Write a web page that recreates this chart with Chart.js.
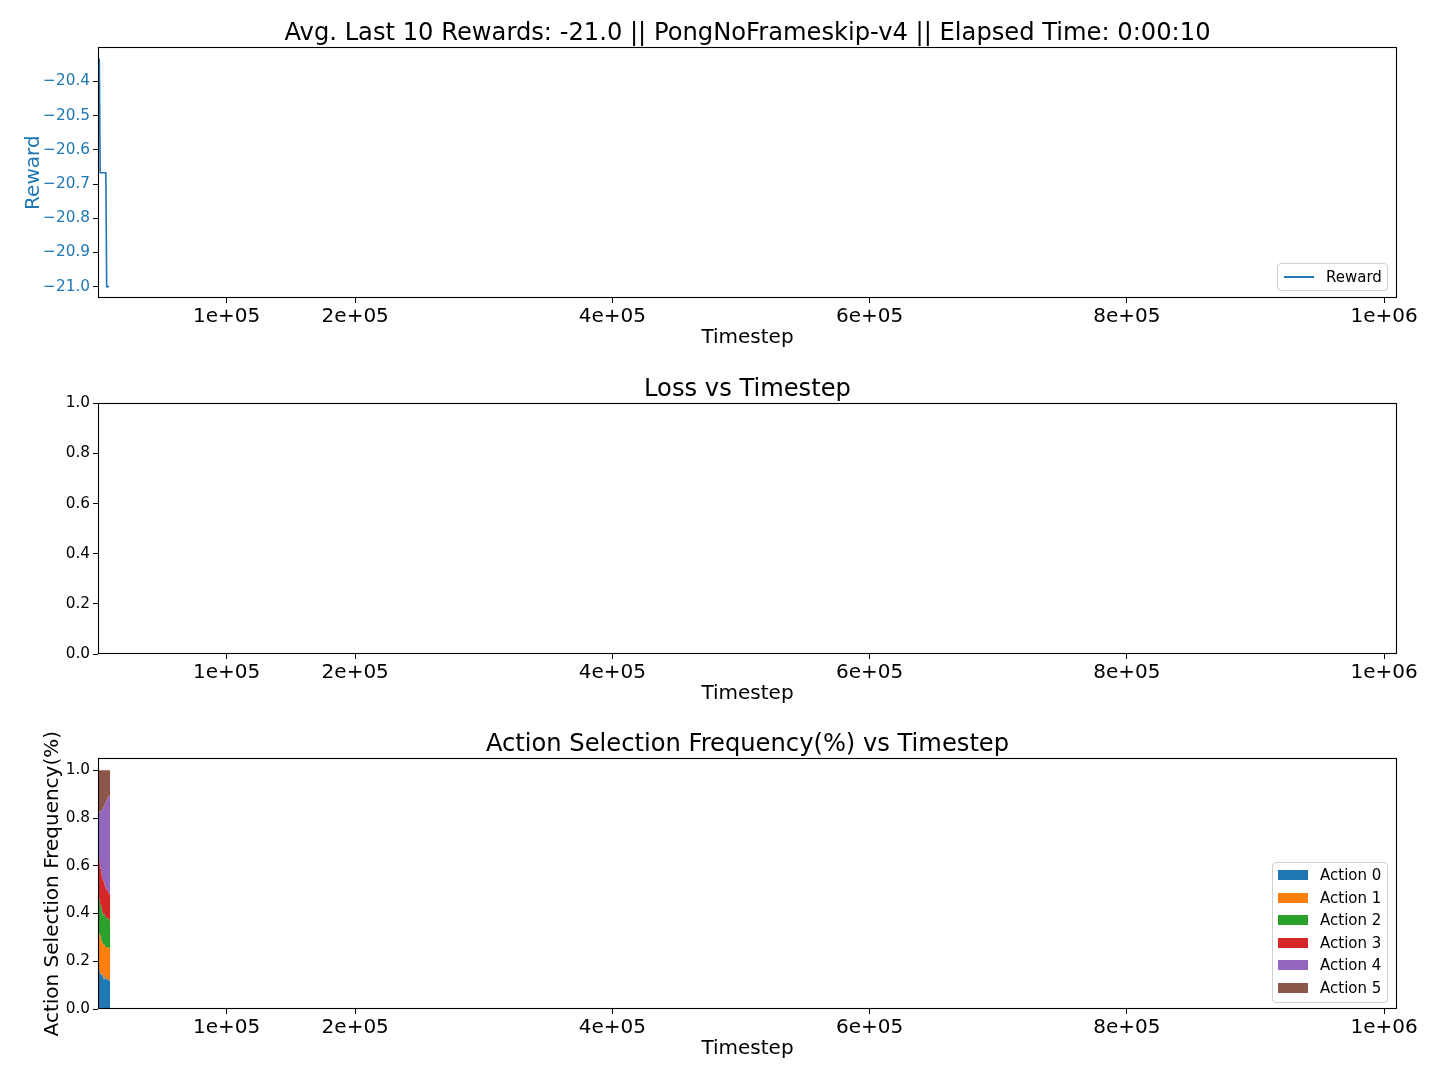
<!DOCTYPE html>
<html><head><meta charset="utf-8">
<script src="https://cdn.jsdelivr.net/npm/chart.js@4/dist/chart.umd.min.js"></script>
<style>
html,body{margin:0;padding:0;background:#fff;}
body{width:1440px;height:1080px;position:relative;overflow:hidden;font-family:"DejaVu Sans",sans-serif;}
.panel{position:absolute;left:0;width:1440px;height:355px;}
.legend{position:absolute;background:rgba(255,255,255,0.8);border:1px solid #d0d0d0;border-radius:4px;box-sizing:border-box;font-size:15px;color:#000;}
.row{position:absolute;left:0;right:0;height:20px;}
.row span.txt{position:absolute;top:0;line-height:20px;white-space:nowrap;}
.row span.mk{position:absolute;}
</style></head><body>
<div class="panel" style="top:0"><canvas id="c1" width="1440" height="355"></canvas></div>
<div class="panel" style="top:356px"><canvas id="c2" width="1440" height="355"></canvas></div>
<div class="panel" style="top:711px"><canvas id="c3" width="1440" height="355"></canvas></div>
<div id="leg1" class="legend" style="left:1277px;top:263px;width:111px;height:28px;"></div>
<div id="leg2" class="legend" style="left:1272px;top:862px;width:116px;height:141px;"></div>
<script>
// ---- data ----
const xTickValues = [100000, 200000, 400000, 600000, 800000, 1000000];
const xTickLabels = ['1e+05', '2e+05', '4e+05', '6e+05', '8e+05', '1e+06'];
const xMin = 0, xMax = 1010000;

const rewardSteps  = [1000, 1700, 2500, 3300, 4150, 5000, 6100, 6750, 8600];
const rewardValues = [-20.333, -20.667, -20.667, -20.667, -20.667, -20.667, -20.667, -21.0, -21.0];
const rewardTicks  = [-21.0, -20.9, -20.8, -20.7, -20.6, -20.5, -20.4];

const lossSteps  = [];
const lossValues = [];
const unitTicks  = [0.0, 0.2, 0.4, 0.6, 0.8, 1.0];

const actionSteps = [0, 800, 1600, 2400, 3200, 4000, 4800, 5600, 6400, 7200, 8000, 8800, 9500];
const action0 = [0.16, 0.17, 0.15, 0.14, 0.15, 0.13, 0.12, 0.14, 0.12, 0.13, 0.12, 0.12, 0.115];
const action1 = [0.17, 0.15, 0.16, 0.15, 0.13, 0.14, 0.15, 0.12, 0.14, 0.13, 0.14, 0.13, 0.135];
const action2 = [0.14, 0.15, 0.13, 0.14, 0.13, 0.12, 0.13, 0.13, 0.12, 0.12, 0.12, 0.12, 0.12];
const action3 = [0.18, 0.16, 0.16, 0.15, 0.14, 0.15, 0.13, 0.12, 0.12, 0.12, 0.11, 0.11, 0.11];
const action4 = [0.18, 0.20, 0.22, 0.25, 0.28, 0.30, 0.32, 0.35, 0.37, 0.38, 0.40, 0.41, 0.41];
const action5 = [0.17, 0.17, 0.18, 0.17, 0.17, 0.16, 0.15, 0.14, 0.13, 0.12, 0.11, 0.11, 0.11];
const actionLabels = ['Action 0', 'Action 1', 'Action 2', 'Action 3', 'Action 4', 'Action 5'];
const actionColors = ['#1f77b4', '#ff7f0e', '#2ca02c', '#d62728', '#9467bd', '#8c564b'];

const titles = [
  'Avg. Last 10 Rewards: -21.0 || PongNoFrameskip-v4 || Elapsed Time: 0:00:10',
  'Loss vs Timestep',
  'Action Selection Frequency(%) vs Timestep'
];

// ---- helpers ----
const FONT = '"DejaVu Sans", sans-serif';
const tickGrid = {display:true, drawOnChartArea:false, drawTicks:true, tickLength:5, tickColor:'#000', tickWidth:1, color:'#000'};

function fmt(v){ return (v < 0 ? '\u2212' : '') + Math.abs(v).toFixed(1); }

function xScale(){
  return {
    type:'linear', min:xMin, max:xMax,
    afterBuildTicks: s => { s.ticks = xTickValues.map(v => ({value:v})); },
    afterFit: s => { s.height = 57; },
    ticks:{autoSkip:false, maxRotation:0, minRotation:0, padding:1.5, color:'#000',
      font:{family:FONT, size:20},
      callback:(v) => { const i = xTickValues.indexOf(v); return i >= 0 ? xTickLabels[i] : ''; }},
    grid: tickGrid,
    border:{display:false},
    title:{display:true, text:'Timestep', color:'#000', font:{family:FONT, size:20}, padding:{top:0, bottom:5.5}}
  };
}
function yScale(o){
  return {
    type:'linear', min:o.min, max:o.max, stacked:!!o.stacked,
    afterBuildTicks: s => { s.ticks = o.ticks.map(v => ({value:v})); },
    afterFit: s => { s.width = 98; },
    ticks:{color:o.color, padding:3, font:{family:FONT, size:15.3}, callback: v => fmt(v)},
    grid: tickGrid,
    border:{display:false},
    title: o.title ? {display:true, text:o.title, color:o.color, font:{family:FONT, size:20}, padding:{top:o.titlePad, bottom:0}} : {display:false}
  };
}
const framePlugin = {
  id:'frame',
  afterDatasetsDraw(chart){
    const {ctx, chartArea:a} = chart;
    ctx.save();
    ctx.strokeStyle = '#000';
    ctx.lineWidth = 1.1;
    ctx.strokeRect(Math.round(a.left) + 0.5, Math.round(a.top) + 0.5,
                   Math.round(a.right - a.left) - 1, Math.round(a.bottom - a.top) - 1);
    ctx.restore();
  }
};
function baseOptions(title, scales){
  return {
    responsive:false, animation:false,
    layout:{padding:{left:0, right:43, top:0, bottom:0}},
    elements:{point:{radius:0}, line:{tension:0}},
    plugins:{
      legend:{display:false}, tooltip:{enabled:false},
      title:{display:true, text:title, fullSize:false, color:'#000',
        font:{family:FONT, size:24.2, weight:'normal', lineHeight:1.15}, padding:{top:19.5, bottom:0}}
    },
    scales
  };
}

// ---- chart 1: reward ----
const chart1 = new Chart(document.getElementById('c1'), {
  type:'line',
  data:{datasets:[{
    label:'Reward',
    data: rewardSteps.map((x, i) => ({x, y:rewardValues[i]})),
    borderColor:'#1f77b4', borderWidth:1.6, pointRadius:0, fill:false
  }]},
  options: baseOptions(titles[0], {
    x: xScale(),
    y: yScale({min:-21.0333, max:-20.3, ticks:rewardTicks, color:'#1f77b4', title:'Reward', titlePad:21.5})
  }),
  plugins:[framePlugin]
});

// ---- chart 2: loss ----
const chart2 = new Chart(document.getElementById('c2'), {
  type:'line',
  data:{datasets:[{
    label:'Loss',
    data: lossSteps.map((x, i) => ({x, y:lossValues[i]})),
    borderColor:'#1f77b4', borderWidth:1.5, pointRadius:0, fill:false
  }]},
  options: baseOptions(titles[1], {
    x: xScale(),
    y: yScale({min:0, max:1, ticks:unitTicks, color:'#000'})
  }),
  plugins:[framePlugin]
});

// ---- chart 3: action frequency (stacked areas) ----
const actionSeries = [action0, action1, action2, action3, action4, action5];
const chart3 = new Chart(document.getElementById('c3'), {
  type:'line',
  data:{datasets: actionSeries.map((vals, k) => ({
    label: actionLabels[k],
    data: actionSteps.map((x, i) => ({x, y:vals[i]})),
    borderColor: actionColors[k], backgroundColor: actionColors[k],
    borderWidth:0, pointRadius:0, fill: k === 0 ? 'origin' : '-1'
  }))},
  options: baseOptions(titles[2], {
    x: xScale(),
    y: yScale({min:0, max:1.05, ticks:unitTicks, color:'#000', stacked:true, title:'Action Selection Frequency(%)', titlePad:41})
  }),
  plugins:[framePlugin]
});

// ---- legends (HTML) ----
function buildLegend(el, chart, kind, rowStart, rowStep){
  chart.data.datasets.forEach((ds, k) => {
    const row = document.createElement('div');
    row.className = 'row';
    row.style.top = (rowStart + k * rowStep - 10) + 'px';
    const mk = document.createElement('span');
    mk.className = 'mk';
    if (kind === 'line') {
      mk.style.cssText = 'left:6px;top:9px;width:30px;height:2px;background:' + ds.borderColor + ';';
    } else {
      mk.style.cssText = 'left:5px;top:5px;width:30px;height:10px;background:' + ds.backgroundColor + ';';
    }
    const tx = document.createElement('span');
    tx.className = 'txt';
    tx.style.left = (kind === 'line' ? 48 : 47) + 'px';
    tx.textContent = ds.label;
    row.appendChild(mk); row.appendChild(tx);
    el.appendChild(row);
  });
}
buildLegend(document.getElementById('leg1'), chart1, 'line', 13, 0);
buildLegend(document.getElementById('leg2'), chart3, 'patch', 12, 22.5);
</script>
</body></html>
